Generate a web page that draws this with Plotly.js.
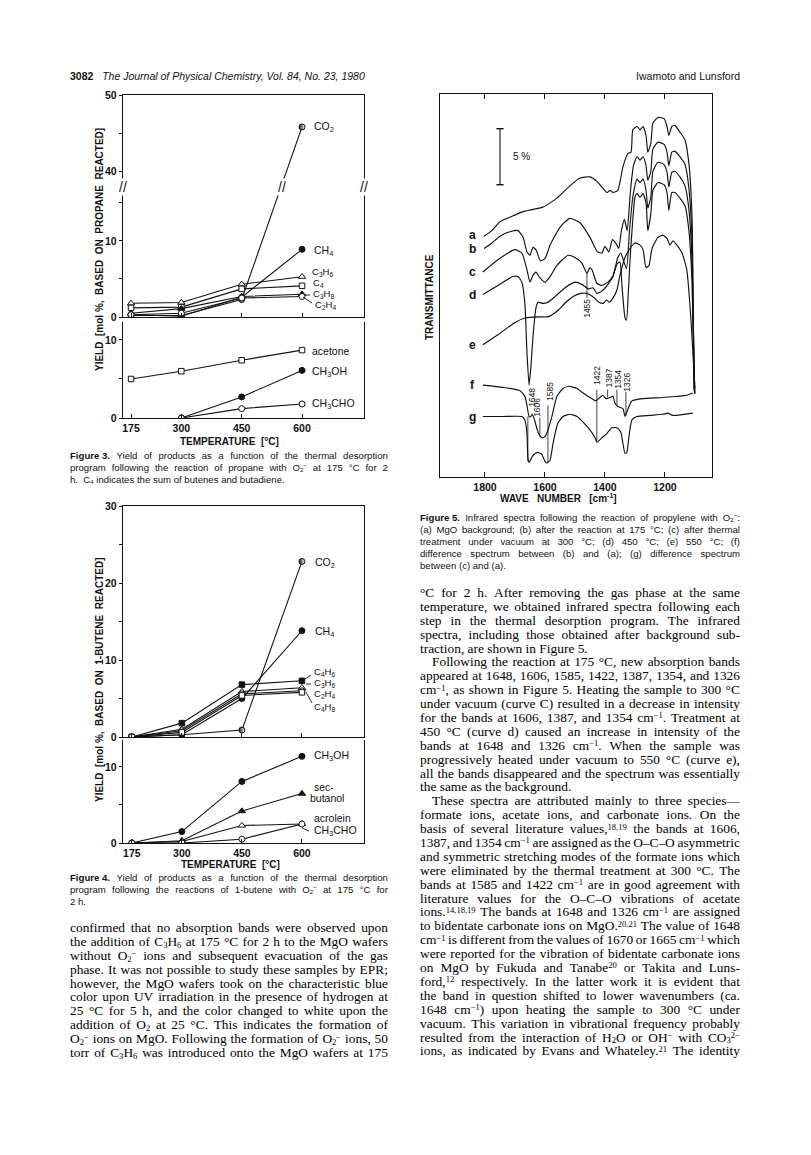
<!DOCTYPE html>
<html><head><meta charset="utf-8">
<script src="https://cdn.plot.ly/plotly-3.0.1.min.js"></script>
<style>
html,body{margin:0;padding:0;background:#fff;}
#page{position:relative;width:811px;height:1155px;overflow:hidden;background:#fff;}
#plot{position:absolute;left:0;top:0;width:811px;height:1155px;}
.blk{position:absolute;color:#000;}
.body{font-family:"Liberation Serif","Times New Roman",serif;font-size:13.4px;line-height:13.9px;}
.cap{font-family:"Liberation Sans",Arial,Helvetica,sans-serif;font-size:9.6px;line-height:12px;color:#111;}
.ln{white-space:nowrap;}
.body .ln{height:13.9px;}
.cap .ln{height:12px;}
sub,sup{font-size:64%;line-height:0;position:relative;vertical-align:baseline;}
sub{top:0.22em;} sup{top:-0.42em;}
.hdr{position:absolute;top:70px;font-family:"Liberation Sans",Arial,sans-serif;font-size:10.5px;color:#111;white-space:nowrap;}
</style></head>
<body><div id="page"><div id="plot"></div></div>
<script>
// ---------------- DATA ----------------
const temps = [175, 300, 450, 600];
const temps300 = [300, 450, 600];
// Figure 3 (propane), upper panel, mol %
const f3_CO2  = [0.2, 0.2, 2.3, 45.8];
const f3_CH4  = [0.3, 0.1, 2.6, 8.9];
const f3_C3H6 = [1.8, 1.9, 4.3, 5.3];
const f3_C4   = [1.2, 1.3, 3.7, 4.1];
const f3_C3H8 = [0.5, 1.1, 2.7, 3.0];
const f3_C2H4 = [0.3, 0.5, 2.5, 2.7];
// Figure 3, lower panel
const f3_acetone = [5.0, 6.0, 7.4, 8.7];
const f3_CH3OH   = [0, 2.7, 6.1];
const f3_CH3CHO  = [0, 1.2, 1.8];
// Figure 4 (1-butene), upper panel
const f4_CO2  = [0, 0.3, 0.9, 22.8];
const f4_CH4  = [0, 0.3, 5.0, 13.8];
const f4_C4H6 = [0, 1.8, 6.8, 7.3];
const f4_C3H6 = [0, 1.0, 5.9, 6.4];
const f4_C2H4 = [0, 0.8, 5.6, 6.0];
const f4_C4H8 = [0, 0.6, 5.4, 5.8];
// Figure 4, lower panel
const f4_CH3OH    = [0, 1.5, 8.1, 11.4];
const f4_secBuOH  = [0, 0.3, 4.2, 6.5];
const f4_acrolein = [0, 0.2, 2.3, 2.5];
const f4_CH3CHO   = [0, 0, 0.5, 2.5];
// tick values
const f3UpMajor = [0, 10, 40, 50];
const f3UpMinor = [5, 15, 45];
const lowMajor = [0, 10];
const lowMinor = [5];
const f4UpMajor = [0, 10, 20, 30];
const f4UpMinor = [5, 15, 25];
const wnTicks = [1800, 1600, 1400, 1200];
// Figure 5 IR spectra (wavenumber cm-1, transmittance % with offsets)
const a_wn = [1803,1777,1750,1717,1673,1607,1560,1517,1483,1450,1427,1407,1393,1383,1373,1357,1340,1323,1313,1307,1293,1283,1273,1263,1257,1247,1240,1223,1203,1193,1187,1177,1167,1150,1133,1120,1110,1107,1103];
const a_T  = [21.5,22.0,22.8,23.2,23.7,24.1,24.9,26.0,26.7,26.8,26.4,25.8,25.4,25.6,25.4,25.6,27.7,28.9,29.0,31.0,31.3,31.0,31.3,30.5,29.0,29.8,31.6,32.1,32.0,31.3,30.5,31.3,31.4,30.8,30.1,28.0,23.6,18.8,7.8];
const b_wn = [1803,1777,1750,1717,1690,1673,1660,1650,1640,1630,1615,1600,1583,1550,1517,1483,1450,1425,1410,1400,1387,1375,1362,1354,1345,1335,1326,1315,1305,1293,1283,1273,1263,1257,1247,1240,1223,1203,1193,1187,1177,1167,1150,1133,1120,1110,1107,1102];
const b_T  = [20.4,20.9,21.5,21.9,22.0,21.4,20.1,19.8,20.5,20.3,19.3,19.5,20.7,22.3,23.1,22.7,21.4,20.1,20.0,20.6,20.1,21.2,20.8,20.4,22.0,23.0,22.0,25.5,27.8,28.6,28.3,28.6,27.8,26.5,27.3,29.3,29.9,29.7,29.0,27.8,29.0,29.1,28.6,27.9,25.8,21.4,16.6,7.6];
const c_wn = [1807,1757,1700,1677,1660,1650,1640,1630,1617,1600,1583,1560,1523,1500,1477,1460,1450,1443,1427,1410,1390,1373,1357,1347,1338,1328,1318,1307,1293,1283,1273,1263,1257,1247,1240,1223,1203,1193,1187,1177,1167,1150,1133,1120,1110,1106,1101];
const c_T  = [18.3,19.4,20.3,20.0,18.5,17.4,18.0,18.3,17.8,17.4,17.9,18.9,19.8,19.6,19.1,18.2,18.7,18.5,17.3,17.1,17.4,18.0,19.6,20.0,19.3,18.6,22.0,25.0,26.6,26.3,26.6,25.6,24.0,25.0,27.3,28.1,27.9,27.2,25.9,27.2,27.3,26.8,26.0,23.9,19.4,14.8,7.5];
const d_wn = [1807,1757,1707,1690,1677,1667,1660,1653,1647,1640,1630,1623,1607,1590,1567,1533,1500,1477,1455,1440,1427,1410,1390,1373,1360,1350,1343,1333,1328,1322,1315,1307,1300,1293,1283,1273,1263,1257,1247,1240,1223,1203,1193,1187,1177,1167,1150,1133,1120,1110,1106,1100];
const d_T  = [16.3,17.1,17.9,17.9,17.4,15.5,11.1,8.2,9.8,12.5,15.1,15.6,15.5,15.6,16.1,16.9,17.4,17.2,16.8,16.9,16.4,16.6,17.2,17.9,19.0,19.2,17.0,14.2,14.0,16.5,20.0,23.0,25.0,25.3,25.0,25.3,24.5,22.0,23.5,25.6,26.3,26.1,25.4,23.8,25.4,25.4,24.9,24.2,22.0,17.6,13.0,7.4];
const e_wn = [1807,1757,1700,1667,1620,1590,1560,1530,1500,1480,1460,1440,1420,1405,1395,1385,1375,1360,1350,1333,1317,1300,1283,1273,1263,1253,1243,1223,1207,1193,1183,1173,1160,1143,1127,1113,1100];
const e_T  = [11.8,12.7,13.8,14.2,14.3,14.3,14.8,15.6,16.2,16.4,16.4,16.1,15.6,15.5,15.8,15.6,15.9,16.7,18.0,19.6,20.4,20.9,20.7,20.3,18.7,18.9,20.4,21.4,21.6,21.3,20.7,21.1,20.7,20.0,18.5,14.0,7.9];
const f_wn = [1807,1740,1683,1667,1660,1653,1647,1643,1637,1623,1610,1600,1590,1577,1560,1540,1520,1493,1473,1450,1430,1417,1407,1397,1383,1373,1367,1357,1340,1333,1323,1310,1273,1207,1127,1107];
const f_T  = [8.2,8.0,7.7,7.2,6.4,5.4,5.4,5.6,5.3,4.0,3.5,3.6,4.2,5.4,7.2,7.9,8.1,7.9,7.5,7.1,6.8,7.1,7.3,7.0,7.1,7.2,6.6,6.3,6.1,5.4,6.1,6.8,7.0,7.1,7.3,7.5];
const g_wn = [1807,1740,1677,1667,1660,1657,1653,1643,1633,1623,1610,1600,1593,1583,1573,1557,1540,1517,1493,1473,1450,1433,1427,1410,1393,1377,1360,1347,1340,1333,1327,1320,1310,1293,1250,1207,1190,1173,1107];
const g_T  = [5.4,5.4,5.4,5.1,3.9,1.7,1.3,1.8,2.1,2.2,2.0,1.4,1.25,1.5,3.0,4.8,5.4,5.6,5.4,4.9,4.2,3.5,3.1,3.5,3.9,4.4,4.4,4.0,3.0,2.1,2.2,3.6,5.1,5.4,5.5,5.6,5.7,5.5,5.7];
const bands = [1455, 1648, 1606, 1585, 1422, 1387, 1354, 1326];

// ---------------- STYLE / HELPERS ----------------
const INK = '#111';
const FONT = '"Liberation Sans", Arial, Helvetica, sans-serif';
const W = 811, H = 1155;
const PX = x => x / W, PY = y => 1 - y / H;
// broken axis of Fig. 3 (10..40 gap removed)
const brk = v => (v <= 20 ? v : v - 40 + 19.2);

const M_FC = {symbol:'circle'};
const M_OC = {symbol:'circle', color:'#fff'};
const M_FS = {symbol:'square', size:5.5};
const M_OS = {symbol:'square', color:'#fff', size:5.5};
const M_FT = {symbol:'triangle-up', size:6.5};
const M_OT = {symbol:'triangle-up', color:'#fff', size:6.5};
const M_HC = {symbol:'circle', gradient:{type:'horizontal', color:'#fff'}};

function ser(xa, ya, x, y, mk) {
  return {type:'scatter', mode:'lines+markers', x:x, y:y, xaxis:xa, yaxis:ya,
    line:{color:INK, width:1.1},
    marker:Object.assign({size:6, color:INK, line:{color:INK, width:1}}, mk),
    hoverinfo:'skip'};
}
function spec(x, y) {
  return {type:'scatter', mode:'lines', x:x, y:y, xaxis:'x5', yaxis:'y5',
    line:{color:INK, width:1.15, shape:'spline', smoothing:0.5}, hoverinfo:'skip'};
}

const traces = [
  ser('x','y',temps, f3_CO2.map(brk), M_HC),
  ser('x','y',temps, f3_CH4.map(brk), M_FC),
  ser('x','y',temps, f3_C3H6.map(brk), M_OT),
  ser('x','y',temps, f3_C4.map(brk), M_OS),
  ser('x','y',temps, f3_C3H8.map(brk), M_FT),
  ser('x','y',temps, f3_C2H4.map(brk), M_OC),
  ser('x2','y2',temps, f3_acetone, M_OS),
  ser('x2','y2',temps300, f3_CH3OH, M_FC),
  ser('x2','y2',temps300, f3_CH3CHO, M_OC),
  ser('x3','y3',temps, f4_CO2, M_HC),
  ser('x3','y3',temps, f4_CH4, M_FC),
  ser('x3','y3',temps, f4_C4H6, M_FS),
  ser('x3','y3',temps, f4_C3H6, M_OT),
  ser('x3','y3',temps, f4_C2H4, M_OC),
  ser('x3','y3',temps, f4_C4H8, M_OS),
  ser('x4','y4',temps, f4_CH3OH, M_FC),
  ser('x4','y4',temps, f4_secBuOH, M_FT),
  ser('x4','y4',temps, f4_acrolein, M_OT),
  ser('x4','y4',temps, f4_CH3CHO, M_OC),
  spec(a_wn, a_T), spec(b_wn, b_T), spec(c_wn, c_T), spec(d_wn, d_T),
  spec(e_wn, e_T), spec(f_wn, f_T), spec(g_wn, g_T)
];

const tickFont = {family:FONT, size:10.5, color:INK, weight:'bold'};
const baseAx = {showgrid:false, zeroline:false, showline:true, linecolor:INK, linewidth:1.2,
  tickcolor:INK, tickwidth:1, tickfont:tickFont, fixedrange:true};
const fx = [PX(123), PX(364)];
function xT(domain, anchor, labels, range, mirror) {
  return Object.assign({}, baseAx, {domain:domain, anchor:anchor, range:range,
    tickmode:'array', tickvals:temps, ticktext:temps.map(String), showticklabels:labels,
    ticks:'inside', ticklen:4, mirror:mirror});
}
function yT(domain, anchor, range, major, minor, f) {
  f = f || (v => v);
  return Object.assign({}, baseAx, {domain:domain, anchor:anchor, range:range,
    tickmode:'array', tickvals:major.map(f), ticktext:major.map(String), ticks:'outside', ticklen:3,
    minor:{tickmode:'array', tickvals:minor.map(f), ticks:'outside', ticklen:3, tickcolor:INK, tickwidth:1, showgrid:false},
    mirror:true});
}

const layout = {
  width:W, height:H, margin:{l:0, r:0, t:0, b:0}, showlegend:false,
  paper_bgcolor:'rgba(0,0,0,0)', plot_bgcolor:'rgba(0,0,0,0)',
  xaxis:  xT(fx, 'y',  false, [155, 754], true),
  yaxis:  yT([PY(317), PY(95)], 'x', [0, 29.2], f3UpMajor, f3UpMinor, brk),
  xaxis2: xT(fx, 'y2', true, [155, 754], false),
  yaxis2: yT([PY(418), PY(322)], 'x2', [0, 12.3], lowMajor, lowMinor),
  xaxis3: xT(fx, 'y3', false, [153, 755], true),
  yaxis3: yT([PY(737), PY(506)], 'x3', [0, 30], f4UpMajor, f4UpMinor),
  xaxis4: xT(fx, 'y4', true, [153, 755], false),
  yaxis4: yT([PY(843), PY(740)], 'x4', [0, 13.55], lowMajor, lowMinor),
  xaxis5: Object.assign({}, baseAx, {domain:[PX(440), PX(712)], anchor:'y5', range:[1950, 1043],
    tickmode:'array', tickvals:wnTicks, ticktext:wnTicks.map(String), ticks:'inside', ticklen:5,
    mirror:'ticks', linewidth:1.3}),
  yaxis5: Object.assign({}, baseAx, {domain:[PY(477), PY(94)], anchor:'x5', range:[0, 34.2],
    showticklabels:false, ticks:'', mirror:true, linewidth:1.3}),
  annotations: [], shapes: []
};

const A = layout.annotations, S = layout.shapes;
function ann(text, x, y, o) {
  A.push(Object.assign({text:text, x:PX(x), y:PY(y), xref:'paper', yref:'paper', showarrow:false,
    xanchor:'left', yanchor:'middle', font:{family:FONT, size:10.5, color:INK}}, o || {}));
}
function seg(x0, y0, x1, y1) {
  S.push({type:'line', xref:'paper', yref:'paper', x0:PX(x0), y0:PY(y0), x1:PX(x1), y1:PY(y1),
    line:{color:INK, width:0.9}});
}
const NB = '\u00a0';
const TF = {family:FONT, size:10, color:INK, weight:'bold'};
const SMALL = {font:{family:FONT, size:9.5, color:INK}};
// axis titles
const ytitle = {textangle:-90, xanchor:'center', font:TF};
ann('YIELD'+NB+NB+'[mol'+NB+'%,'+NB+NB+'BASED'+NB+NB+'ON'+NB+NB+'PROPANE'+NB+NB+'REACTED]', 99, 250, ytitle);
ann('YIELD'+NB+NB+'[mol'+NB+'%,'+NB+NB+'BASED'+NB+NB+'ON'+NB+NB+'1-BUTENE'+NB+NB+'REACTED]', 99, 680, ytitle);
ann('TEMPERATURE'+NB+NB+'[°C]', 229, 441, {xanchor:'center', font:TF});
ann('TEMPERATURE'+NB+NB+'[°C]', 231, 864, {xanchor:'center', font:TF});
ann('TRANSMITTANCE', 430, 297, ytitle);
ann('WAVE'+NB+NB+NB+'NUMBER'+NB+NB+NB+'[cm<sup>-1</sup>]', 558, 498, {xanchor:'center', font:TF});
// axis breaks
const brkFont = {family:FONT, size:14, color:INK};
ann('//', 123, 187, {xanchor:'center', font:brkFont, bgcolor:'#fff', borderpad:0});
ann('//', 364, 187, {xanchor:'center', font:brkFont, bgcolor:'#fff', borderpad:0});
ann('//', 282, 187, {xanchor:'center', font:brkFont, bgcolor:'#fff', borderpad:0});
// Fig 3 labels
ann('CO<sub>2</sub>', 312, 127); ann('CH<sub>4</sub>', 312, 251);
ann('C<sub>3</sub>H<sub>6</sub>', 310, 272, SMALL); ann('C<sub>4</sub>', 311, 283, SMALL);
ann('C<sub>3</sub>H<sub>8</sub>', 311, 294, SMALL); ann('C<sub>2</sub>H<sub>4</sub>', 313, 305, SMALL);
seg(305, 295, 310, 295); seg(303, 297, 312, 303);
ann('acetone', 310, 351); ann('CH<sub>3</sub>OH', 310, 372); ann('CH<sub>3</sub>CHO', 310, 404);
// Fig 4 labels
ann('CO<sub>2</sub>', 313, 563); ann('CH<sub>4</sub>', 313, 632);
ann('C<sub>4</sub>H<sub>6</sub>', 312, 672, SMALL); ann('C<sub>3</sub>H<sub>6</sub>', 312, 683, SMALL);
ann('C<sub>2</sub>H<sub>4</sub>', 312, 694, SMALL); ann('C<sub>4</sub>H<sub>8</sub>', 312, 707, SMALL);
seg(305, 679, 311, 675); seg(306, 684, 311, 684); seg(306, 692, 312, 703);
ann('CH<sub>3</sub>OH', 312, 756); ann('sec-', 312, 787); ann('butanol', 308, 798);
ann('acrolein', 312, 818); ann('CH<sub>3</sub>CHO', 312, 831); seg(302, 828, 309, 831);
// Fig 5 curve letters
const lf = {xanchor:'center', font:{family:FONT, size:12, color:INK, weight:'bold'}};
[['a',235],['b',249],['c',272],['d',295],['e',345],['f',385],['g',417]].forEach(p => ann(p[0], 472, p[1], lf));
// Fig 5 band labels (rotated) + leader lines, in data coordinates
function band(txt, x, y) {
  A.push({text:txt, x:x, y:y, xref:'x5', yref:'y5', showarrow:false, textangle:-90,
    xanchor:'center', yanchor:'middle', font:{family:FONT, size:8.5, color:INK}});
}
function lead(x, y0, y1) {
  S.push({type:'line', xref:'x5', yref:'y5', x0:x, x1:x, y0:y0, y1:y1, line:{color:INK, width:0.8}});
}
band(String(bands[0]), 1460, 15.1); lead(1460, 16.0, 18.2);
band(String(bands[1]), 1642, 7.1);  lead(1657, 5.4, 1.4);
band(String(bands[2]), 1627, 6.25); lead(1617, 5.3, 3.6);
band(String(bands[3]), 1583, 7.6);  lead(1590, 6.4, 1.3);
band(String(bands[4]), 1427, 9.1);  lead(1427, 7.8, 3.2);
band(String(bands[5]), 1388, 8.85); lead(1391, 7.8, 7.1);
band(String(bands[6]), 1357, 8.75); lead(1360, 7.8, 6.4);
band(String(bands[7]), 1327, 8.5);  lead(1330, 7.6, 5.5);
// 5 % scale bar
S.push({type:'line', xref:'x5', yref:'y5', x0:1750, x1:1750, y0:26.1, y1:31.1, line:{color:INK, width:1.1}});
S.push({type:'line', xref:'x5', yref:'y5', x0:1762, x1:1738, y0:26.1, y1:26.1, line:{color:INK, width:1.4}});
S.push({type:'line', xref:'x5', yref:'y5', x0:1762, x1:1738, y0:31.1, y1:31.1, line:{color:INK, width:1.4}});
A.push({text:'5 %', x:1712, y:28.6, xref:'x5', yref:'y5', showarrow:false, xanchor:'left',
  font:{family:FONT, size:10, color:INK}});

Plotly.newPlot('plot', traces, layout, {staticPlot:true, displayModeBar:false});

// ---------------- PAGE TEXT ----------------
const page = document.getElementById('page');
function block(cls, left, top, width, lines) {
  const d = document.createElement('div'); d.className = 'blk ' + cls;
  d.style.left = left + 'px'; d.style.top = top + 'px'; d.style.width = width + 'px';
  lines.forEach(raw => {
    let s = raw, indent = false, last = false;
    if (s.startsWith('>')) { indent = true; s = s.slice(1); }
    if (s.endsWith('|')) { last = true; s = s.slice(0, -1); }
    const ln = document.createElement('div'); ln.className = 'ln';
    if (indent) ln.style.paddingLeft = '12px';
    if (!last) {
      ln.style.display = 'flex'; ln.style.justifyContent = 'space-between';
      s.split(' ').filter(w => w.length).forEach(w => { const sp = document.createElement('span'); sp.innerHTML = w; ln.appendChild(sp); });
    } else ln.innerHTML = s;
    d.appendChild(ln);
  });
  page.appendChild(d);
}
function hdr(html, left, right) {
  const d = document.createElement('div'); d.className = 'hdr'; d.innerHTML = html;
  if (left !== null) d.style.left = left + 'px'; if (right !== null) d.style.right = right + 'px';
  page.appendChild(d);
}
hdr('<b>3082</b>&nbsp;&nbsp;&nbsp;<i>The Journal of Physical Chemistry, Vol. 84, No. 23, 1980</i>', 70, null);
hdr('Iwamoto and Lunsford', null, 811 - 740);

block('cap', 70, 450, 318, [
  '<b>Figure&nbsp;3.</b> Yield of products as a function of the thermal desorption',
  'program following the reaction of propane with O<sub>2</sub><sup>−</sup> at 175 °C for 2',
  'h.&nbsp; C<sub>4</sub> indicates the sum of butenes and butadiene.|'
]);
block('cap', 70, 872, 318, [
  '<b>Figure&nbsp;4.</b> Yield of products as a function of the thermal desorption',
  'program following the reactions of 1-butene with O<sub>2</sub><sup>−</sup> at 175 °C for',
  '2 h.|'
]);
block('cap', 420, 512, 320, [
  '<b>Figure&nbsp;5.</b> Infrared spectra following the reaction of propylene with O<sub>2</sub><sup>−</sup>:',
  '(a) MgO background; (b) after the reaction at 175 °C; (c) after thermal',
  'treatment under vacuum at 300 °C; (d) 450 °C; (e) 550 °C; (f)',
  'difference spectrum between (b) and (a); (g) difference spectrum',
  'between (c) and (a).|'
]);
block('body', 70, 921, 318, [
  'confirmed that no absorption bands were observed upon',
  'the addition of C<sub>3</sub>H<sub>6</sub> at 175 °C for 2 h to the MgO wafers',
  'without O<sub>2</sub><sup>−</sup> ions and subsequent evacuation of the gas',
  'phase. It was not possible to study these samples by EPR;',
  'however, the MgO wafers took on the characteristic blue',
  'color upon UV irradiation in the presence of hydrogen at',
  '25 °C for 5 h, and the color changed to white upon the',
  'addition of O<sub>2</sub> at 25 °C. This indicates the formation of',
  'O<sub>2</sub><sup>−</sup> ions on MgO. Following the formation of O<sub>2</sub><sup>−</sup> ions, 50',
  'torr of C<sub>3</sub>H<sub>6</sub> was introduced onto the MgO wafers at 175'
]);
block('body', 420, 586, 320, [
  '°C for 2 h. After removing the gas phase at the same',
  'temperature, we obtained infrared spectra following each',
  'step in the thermal desorption program. The infrared',
  'spectra, including those obtained after background sub-',
  'traction, are shown in Figure 5.|',
  '>Following the reaction at 175 °C, new absorption bands',
  'appeared at 1648, 1606, 1585, 1422, 1387, 1354, and 1326',
  'cm<sup>−1</sup>, as shown in Figure 5. Heating the sample to 300 °C',
  'under vacuum (curve C) resulted in a decrease in intensity',
  'for the bands at 1606, 1387, and 1354 cm<sup>−1</sup>. Treatment at',
  '450 °C (curve d) caused an increase in intensity of the',
  'bands at 1648 and 1326 cm<sup>−1</sup>. When the sample was',
  'progressively heated under vacuum to 550 °C (curve e),',
  'all the bands disappeared and the spectrum was essentially',
  'the same as the background.|',
  '>These spectra are attributed mainly to three species—',
  'formate ions, acetate ions, and carbonate ions. On the',
  'basis of several literature values,<sup>18,19</sup> the bands at 1606,',
  '1387, and 1354 cm<sup>−1</sup> are assigned as the O–C–O asymmetric',
  'and symmetric stretching modes of the formate ions which',
  'were eliminated by the thermal treatment at 300 °C. The',
  'bands at 1585 and 1422 cm<sup>−1</sup> are in good agreement with',
  'literature values for the O–C–O vibrations of acetate',
  'ions.<sup>14,18,19</sup> The bands at 1648 and 1326 cm<sup>−1</sup> are assigned',
  'to bidentate carbonate ions on MgO.<sup>20,21</sup> The value of 1648',
  'cm<sup>−1</sup> is different from the values of 1670 or 1665 cm<sup>−1</sup> which',
  'were reported for the vibration of bidentate carbonate ions',
  'on MgO by Fukuda and Tanabe<sup>20</sup> or Takita and Luns-',
  'ford,<sup>12</sup> respectively. In the latter work it is evident that',
  'the band in question shifted to lower wavenumbers (ca.',
  '1648 cm<sup>−1</sup>) upon heating the sample to 300 °C under',
  'vacuum. This variation in vibrational frequency probably',
  'resulted from the interaction of H<sub>2</sub>O or OH<sup>−</sup> with CO<sub>3</sub><sup>2−</sup>',
  'ions, as indicated by Evans and Whateley.<sup>21</sup> The identity'
]);
</script></body></html>
